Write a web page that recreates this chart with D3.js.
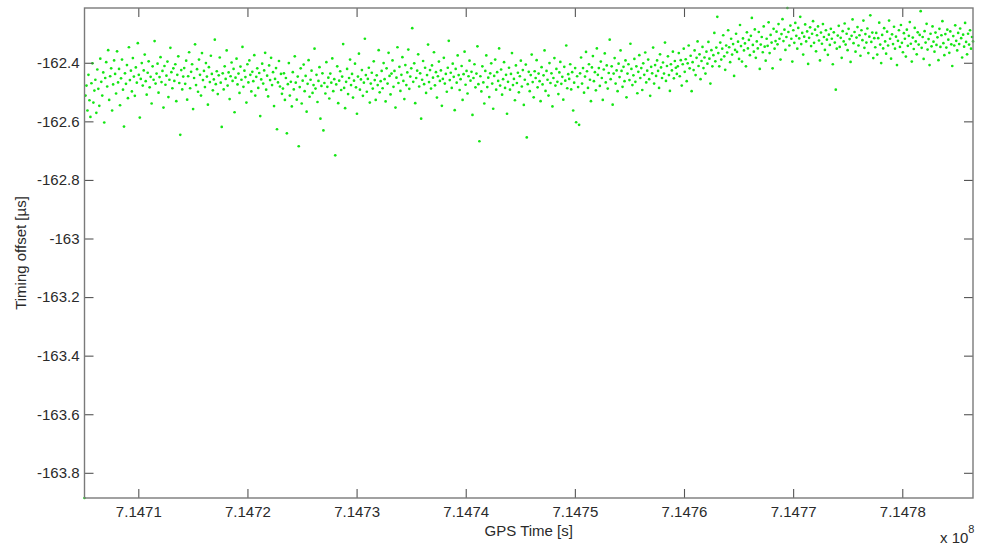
<!DOCTYPE html>
<html><head><meta charset="utf-8">
<script src="https://cdn.jsdelivr.net/npm/d3@7"></script>
<style>body{margin:0;background:#fff}svg{display:block}</style></head>
<body>
<svg id="chart" width="982" height="553"></svg>
<script>
// ---- data (timing offset in µs, evenly sampled in GPS time) ----
const cornerPoint = [-163.886];
const offsetSeg1 = [-162.512,-162.478,-162.563,-162.441,-162.528,-162.585,-162.470,-162.402,-162.536,-162.495,
-162.458,-162.571,-162.423,-162.489,-162.547,-162.386,-162.465,-162.512,-162.433,-162.604,
-162.452,-162.398,-162.481,-162.357,-162.527,-162.446,-162.419,-162.563,-162.474,-162.392,
-162.438,-162.505,-162.361,-162.467,-162.421,-162.545,-162.453,-162.389,-162.492,-162.618,
-162.436,-162.472,-162.408,-162.521,-162.347,-162.459,-162.427,-162.498,-162.384,-162.447,
-162.513,-162.416,-162.468,-162.333,-162.441,-162.587,-162.455,-162.401,-162.478,-162.426,
-162.372,-162.463,-162.509,-162.434,-162.395,-162.484,-162.448,-162.539,-162.412,-162.458,
-162.326,-162.471,-162.437,-162.403,-162.502,-162.449,-162.381,-162.466,-162.428,-162.553,
-162.411,-162.475,-162.444,-162.396,-162.517,-162.458,-162.349,-162.432,-162.487,-162.419,
-162.462,-162.405,-162.531,-162.441,-162.378,-162.469,-162.646,-162.425,-162.491,-162.447];
const offsetSeg2 = [-162.418,-162.472,-162.393,-162.526,-162.446,-162.364,-162.487,-162.431,-162.405,-162.558,
-162.452,-162.337,-162.476,-162.422,-162.499,-162.389,-162.441,-162.512,-162.367,-162.459,
-162.428,-162.483,-162.401,-162.447,-162.543,-162.415,-162.466,-162.376,-162.438,-162.494,
-162.457,-162.321,-162.473,-162.429,-162.507,-162.443,-162.382,-162.468,-162.619,-162.436,
-162.491,-162.412,-162.455,-162.358,-162.478,-162.433,-162.524,-162.446,-162.399,-162.462,
-162.421,-162.569,-162.451,-162.386,-162.474,-162.437,-162.503,-162.413,-162.458,-162.346,
-162.482,-162.427,-162.449,-162.536,-162.405,-162.467,-162.392,-162.441,-162.498,-162.431,
-162.463,-162.374,-162.512,-162.448,-162.419,-162.486,-162.435,-162.582,-162.457,-162.403,
-162.471,-162.426,-162.366,-162.492,-162.444,-162.515,-162.409,-162.459,-162.383,-162.476,
-162.432,-162.548,-162.455,-162.418,-162.627,-162.467,-162.394,-162.481,-162.438,-162.506];
const offsetSeg3 = [-162.488,-162.436,-162.527,-162.452,-162.641,-162.473,-162.401,-162.512,-162.465,-162.549,
-162.432,-162.491,-162.378,-162.468,-162.526,-162.447,-162.685,-162.483,-162.419,-162.539,
-162.461,-162.406,-162.497,-162.445,-162.567,-162.472,-162.391,-162.516,-162.458,-162.427,
-162.503,-162.476,-162.352,-162.488,-162.441,-162.534,-162.462,-162.415,-162.591,-162.479,
-162.436,-162.631,-162.469,-162.505,-162.398,-162.482,-162.451,-162.522,-162.437,-162.468,
-162.385,-162.497,-162.456,-162.716,-162.474,-162.412,-162.538,-162.461,-162.429,-162.493,
-162.447,-162.336,-162.486,-162.555,-162.465,-162.421,-162.507,-162.452,-162.389,-162.476,
-162.438,-162.519,-162.461,-162.403,-162.484,-162.574,-162.447,-162.369,-162.492,-162.457,
-162.425,-162.513,-162.468,-162.318,-162.442,-162.499,-162.455,-162.417,-162.536,-162.471,
-162.434,-162.488,-162.395,-162.459,-162.527,-162.443,-162.476,-162.357,-162.501,-162.463];
const offsetSeg4 = [-162.428,-162.487,-162.401,-162.456,-162.532,-162.419,-162.471,-162.366,-162.445,-162.508,
-162.437,-162.392,-162.482,-162.428,-162.553,-162.451,-162.347,-162.469,-162.414,-162.496,
-162.441,-162.381,-162.462,-162.524,-162.408,-162.476,-162.433,-162.355,-162.489,-162.447,
-162.419,-162.282,-162.465,-162.402,-162.538,-162.452,-162.427,-162.371,-162.481,-162.436,
-162.591,-162.458,-162.394,-162.473,-162.417,-162.503,-162.442,-162.338,-162.466,-162.425,
-162.488,-162.409,-162.451,-162.364,-162.477,-162.432,-162.519,-162.446,-162.396,-162.462,
-162.426,-162.547,-162.455,-162.383,-162.471,-162.438,-162.499,-162.417,-162.325,-162.459,
-162.434,-162.486,-162.403,-162.448,-162.562,-162.421,-162.468,-162.375,-162.442,-162.493,
-162.456,-162.411,-162.527,-162.439,-162.362,-162.475,-162.428,-162.505,-162.446,-162.393,
-162.461,-162.431,-162.578,-162.452,-162.405,-162.484,-162.437,-162.344,-162.473,-162.668];
const offsetSeg5 = [-162.446,-162.498,-162.412,-162.467,-162.539,-162.428,-162.375,-162.483,-162.451,-162.517,
-162.436,-162.402,-162.471,-162.557,-162.445,-162.389,-162.492,-162.432,-162.462,-162.351,
-162.478,-162.423,-162.509,-162.456,-162.398,-162.486,-162.441,-162.574,-162.465,-162.417,
-162.492,-162.438,-162.367,-162.476,-162.455,-162.528,-162.409,-162.469,-162.434,-162.501,
-162.446,-162.393,-162.481,-162.425,-162.544,-162.458,-162.406,-162.655,-162.473,-162.431,
-162.497,-162.442,-162.372,-162.466,-162.518,-162.429,-162.452,-162.391,-162.484,-162.437,
-162.463,-162.531,-162.415,-162.474,-162.443,-162.358,-162.496,-162.428,-162.458,-162.512,
-162.401,-162.469,-162.436,-162.549,-162.452,-162.384,-162.478,-162.421,-162.465,-162.507,
-162.433,-162.397,-162.472,-162.448,-162.526,-162.414,-162.461,-162.341,-162.487,-162.439,
-162.455,-162.405,-162.491,-162.432,-162.563,-162.468,-162.418,-162.603,-162.446,-162.483];
const offsetSeg6 = [-162.612,-162.436,-162.382,-162.471,-162.418,-162.502,-162.447,-162.363,-162.429,-162.486,
-162.405,-162.458,-162.531,-162.416,-162.377,-162.463,-162.432,-162.494,-162.351,-162.441,
-162.418,-162.479,-162.396,-162.452,-162.527,-162.423,-162.368,-162.467,-162.409,-162.488,
-162.435,-162.321,-162.456,-162.412,-162.543,-162.437,-162.384,-162.471,-162.426,-162.497,
-162.403,-162.449,-162.358,-162.428,-162.482,-162.414,-162.463,-162.392,-162.518,-162.437,
-162.405,-162.459,-162.335,-162.421,-162.476,-162.443,-162.387,-162.465,-162.412,-162.504,
-162.431,-162.374,-162.452,-162.418,-162.493,-162.402,-162.441,-162.365,-162.467,-162.427,
-162.389,-162.456,-162.513,-162.414,-162.436,-162.348,-162.471,-162.408,-162.445,-162.392,
-162.428,-162.486,-162.371,-162.416,-162.452,-162.399,-162.437,-162.331,-162.462,-162.411,
-162.378,-162.442,-162.496,-162.405,-162.426,-162.362,-162.453,-162.394,-162.417,-162.438];
const offsetSeg7 = [-162.412,-162.367,-162.446,-162.391,-162.478,-162.405,-162.352,-162.431,-162.388,-162.463,
-162.402,-162.341,-162.419,-162.376,-162.497,-162.398,-162.425,-162.358,-162.442,-162.383,
-162.327,-162.411,-162.371,-162.456,-162.394,-162.346,-162.418,-162.382,-162.437,-162.362,
-162.403,-162.329,-162.386,-162.471,-162.357,-162.412,-162.374,-162.298,-162.395,-162.348,
-162.243,-162.367,-162.412,-162.331,-162.389,-162.352,-162.306,-162.378,-162.424,-162.341,
-162.365,-162.289,-162.347,-162.398,-162.318,-162.372,-162.336,-162.445,-162.356,-162.301,
-162.363,-162.328,-162.387,-162.271,-162.343,-162.396,-162.317,-162.358,-162.334,-162.412,
-162.296,-162.351,-162.322,-162.374,-162.308,-162.247,-162.339,-162.362,-162.286,-162.383,
-162.327,-162.351,-162.295,-162.421,-162.338,-162.312,-162.364,-162.276,-162.345,-162.393,
-162.318,-162.342,-162.262,-162.367,-162.305,-162.331,-162.419,-162.284,-162.352,-162.326];
const offsetSeg8 = [-162.294,-162.337,-162.268,-162.318,-162.389,-162.302,-162.251,-162.326,-162.287,-162.356,
-162.312,-162.213,-162.295,-162.341,-162.273,-162.318,-162.396,-162.289,-162.332,-162.264,
-162.308,-162.352,-162.281,-162.317,-162.243,-162.336,-162.298,-162.372,-162.311,-162.269,
-162.327,-162.293,-162.404,-162.315,-162.279,-162.343,-162.301,-162.258,-162.332,-162.287,
-162.361,-162.306,-162.276,-162.324,-162.392,-162.297,-162.335,-162.268,-162.312,-162.356,
-162.289,-162.321,-162.373,-162.304,-162.339,-162.284,-162.318,-162.405,-162.296,-162.331,
-162.492,-162.352,-162.307,-162.274,-162.346,-162.315,-162.383,-162.292,-162.327,-162.266,
-162.338,-162.301,-162.357,-162.284,-162.319,-162.397,-162.308,-162.252,-162.333,-162.295,
-162.362,-162.314,-162.278,-162.341,-162.306,-162.376,-162.289,-162.323,-162.256,-162.349,
-162.302,-162.331,-162.283,-162.367,-162.311,-162.238,-162.329,-162.297,-162.384,-162.316];
const offsetSeg9 = [-162.347,-162.298,-162.372,-162.316,-162.263,-162.338,-162.401,-162.305,-162.351,-162.282,
-162.327,-162.369,-162.294,-162.341,-162.256,-162.318,-162.386,-162.303,-162.336,-162.277,
-162.352,-162.311,-162.408,-162.325,-162.289,-162.346,-162.271,-162.332,-162.364,-162.299,
-162.318,-162.379,-162.287,-162.342,-162.308,-162.261,-162.335,-162.396,-162.314,-162.353,
-162.281,-162.327,-162.371,-162.296,-162.338,-162.305,-162.224,-162.349,-162.312,-162.387,
-162.292,-162.331,-162.267,-162.355,-162.319,-162.408,-162.301,-162.344,-162.276,-162.328,
-162.362,-162.297,-162.339,-162.313,-162.391,-162.284,-162.346,-162.306,-162.258,-162.333,
-162.374,-162.302,-162.348,-162.287,-162.321,-162.366,-162.293,-162.337,-162.411,-162.309,
-162.341,-162.272,-162.325,-162.358,-162.298,-162.336,-162.283,-162.316,-162.382,-162.304,
-162.345,-162.264,-162.329,-162.371,-162.301,-162.338,-162.289,-162.352,-162.312,-162.327];

const gpsTimeStart = 714705070;
const gpsTimeEnd = 714786480;
const xTickValues = [714710000,714720000,714730000,714740000,714750000,714760000,714770000,714780000];
const xTickLabels = ["7.1471","7.1472","7.1473","7.1474","7.1475","7.1476","7.1477","7.1478"];
const yTickValues = [-162.4,-162.6,-162.8,-163,-163.2,-163.4,-163.6,-163.8];
const yTickLabels = ["-162.4","-162.6","-162.8","-163","-163.2","-163.4","-163.6","-163.8"];

// ---- drawing ----
const timingOffset = [].concat(cornerPoint, offsetSeg1, offsetSeg2, offsetSeg3, offsetSeg4,
  offsetSeg5, offsetSeg6, offsetSeg7, offsetSeg8, offsetSeg9);
const sampleTime = d3.scaleLinear().domain([0, timingOffset.length - 1]).range([gpsTimeStart, gpsTimeEnd]);
const points = timingOffset.map((v, i) => ({t: sampleTime(i), v}));

const L = 84.5, R = 973, T = 8, B = 498;
const svg = d3.select("#chart");
const font = "'Liberation Sans', Arial, sans-serif";

const x = d3.scaleLinear().domain([gpsTimeStart, gpsTimeEnd]).range([L, R]);
const y = d3.scaleLinear().domain(d3.extent(timingOffset)).range([B, T]);

svg.append("g").selectAll("circle").data(points).join("circle")
  .attr("cx", d => x(d.t)).attr("cy", d => y(d.v)).attr("r", 1.35)
  .attr("fill", "#14e614");

function styleAxis(g, labels) {
  g.select(".domain").remove();
  g.selectAll(".tick line").attr("stroke", "#555").attr("stroke-width", 1.1);
  g.selectAll(".tick text").attr("fill", "#2a2a2a").style("font-family", font).style("font-size", "15px");
  if (!labels) g.selectAll(".tick text").remove();
}

svg.append("g").attr("transform", `translate(0,${B})`)
  .call(d3.axisBottom(x).tickValues(xTickValues).tickFormat((d, i) => xTickLabels[i]).tickSizeInner(-9).tickSizeOuter(0).tickPadding(8.5))
  .call(g => styleAxis(g, true));
svg.append("g").attr("transform", `translate(0,${T})`)
  .call(d3.axisTop(x).tickValues(xTickValues).tickSizeInner(-9).tickSizeOuter(0))
  .call(g => styleAxis(g, false));
svg.append("g").attr("transform", `translate(${L},0)`)
  .call(d3.axisLeft(y).tickValues(yTickValues).tickFormat((d, i) => yTickLabels[i]).tickSizeInner(-9).tickSizeOuter(0).tickPadding(5))
  .call(g => styleAxis(g, true));
svg.append("g").attr("transform", `translate(${R},0)`)
  .call(d3.axisRight(y).tickValues(yTickValues).tickSizeInner(-9).tickSizeOuter(0))
  .call(g => styleAxis(g, false));

svg.append("rect").attr("x", L).attr("y", T).attr("width", R - L).attr("height", B - T)
  .attr("fill", "none").attr("stroke", "#7a7a7a").attr("stroke-width", 1.4);

svg.append("text").attr("x", (L + R) / 2).attr("y", 536).attr("text-anchor", "middle")
  .attr("fill", "#2a2a2a").style("font-family", font).style("font-size", "15px").text("GPS Time [s]");
svg.append("text").attr("transform", `translate(26,${(T + B) / 2}) rotate(-90)`).attr("text-anchor", "middle")
  .attr("fill", "#2a2a2a").style("font-family", font).style("font-size", "15px").text("Timing offset [µs]");
const mult = svg.append("text").attr("x", 940).attr("y", 543)
  .attr("fill", "#2a2a2a").style("font-family", font).style("font-size", "15px");
mult.append("tspan").text("x 10");
mult.append("tspan").attr("dy", -10).style("font-size", "11px").text("8");
</script>
</body></html>
